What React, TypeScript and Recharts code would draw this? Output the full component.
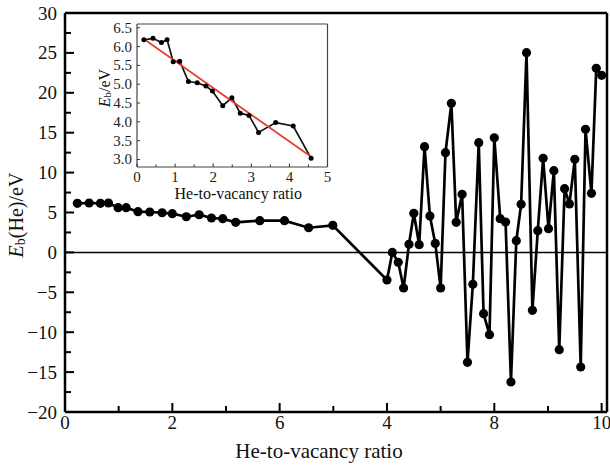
import { Line, LineChart, ReferenceLine, XAxis, YAxis } from "recharts";

// main curve: binding energy vs He-to-vacancy ratio
const mainX = [0.23, 0.45, 0.66, 0.81, 0.99, 1.14, 1.36, 1.58, 1.81, 2.0, 2.26, 2.5, 2.73, 2.94, 3.18, 3.63, 4.09, 4.54, 4.99,
  6.0, 6.1, 6.21, 6.31, 6.41, 6.5, 6.6, 6.7, 6.8, 6.9, 7.0, 7.09, 7.2, 7.29, 7.4, 7.5, 7.6, 7.71, 7.8, 7.91,
  8.0, 8.11, 8.21, 8.31, 8.41, 8.5, 8.6, 8.71, 8.81, 8.91, 9.01, 9.11, 9.21, 9.31, 9.4, 9.5, 9.61, 9.7, 9.81, 9.9, 10.0];
const mainY = [6.15, 6.19, 6.15, 6.19, 5.6, 5.6, 5.1, 5.06, 4.97, 4.85, 4.47, 4.72, 4.31, 4.22, 3.77, 3.97, 3.97, 3.09, 3.39,
  -3.46, 0.0, -1.24, -4.46, 1.01, 4.9, 0.97, 13.25, 4.56, 1.13, -4.46, 12.5, 18.68, 3.77, 7.28, -13.77, -4.0, 13.75, -7.68, -10.31,
  14.37, 4.23, 3.81, -16.24, 1.47, 6.03, 25.03, -7.26, 2.72, 11.79, 2.97, 10.24, -12.19, 7.98, 6.07, 11.67, -14.36, 15.42, 7.4, 23.07, 22.19];

const xTicks = [0, 1, 2, 3, 4, 5, 6, 7, 8, 9, 10];
const xTickLabels = ["0", "2", "6", "4", "8", "10"]; // as printed in the source figure
const yTicks = [-20, -17.5, -15, -12.5, -10, -7.5, -5, -2.5, 0, 2.5, 5, 7.5, 10, 12.5, 15, 17.5, 20, 22.5, 25, 27.5, 30];

// inset: first 18 points + linear fit
const insetX = [0.18, 0.42, 0.64, 0.79, 0.95, 1.12, 1.35, 1.58, 1.81, 1.98, 2.25, 2.49, 2.71, 2.94, 3.19, 3.64, 4.1, 4.57];
const insetY = [6.18, 6.22, 6.11, 6.18, 5.6, 5.61, 5.07, 5.04, 4.95, 4.82, 4.43, 4.64, 4.23, 4.17, 3.72, 3.98, 3.89, 3.03];
const fitX = [0.18, 4.57];
const fitY = [6.2, 3.07];
const insetXTicks = [0, 0.5, 1, 1.5, 2, 2.5, 3, 3.5, 4, 4.5, 5];
const insetYTicks = [3, 3.5, 4, 4.5, 5, 5.5, 6, 6.5];

const mainData = mainX.map((x, i) => ({ x, y: mainY[i] }));
const insetData = insetX.map((x, i) => ({ x, y: insetY[i] }));
const fitData = fitX.map((x, i) => ({ x, y: fitY[i] }));

const SERIF = "Liberation Serif";
const minus = (v: number) => (v < 0 ? "\u2212" + Math.abs(v) : String(v));

const MainYTick = (p: any) => {
  const v = p.payload.value;
  const major = v % 5 === 0;
  return (
    <g>
      <line x1={p.x} x2={p.x + (major ? 9 : 6)} y1={p.y} y2={p.y} stroke="#000" strokeWidth={2} />
      {major && (
        <text x={p.x - 8} y={p.y + 6.5} textAnchor="end" fontSize={19} fontFamily={SERIF} fill="#111">
          {minus(v)}
        </text>
      )}
    </g>
  );
};

const MainXTick = (p: any) => {
  const v = p.payload.value;
  const major = v % 2 === 0;
  return (
    <g>
      <line x1={p.x} x2={p.x} y1={p.y} y2={p.y - (major ? 9 : 6)} stroke="#000" strokeWidth={2} />
      {major && (
        <text x={p.x} y={p.y + 17} textAnchor="middle" fontSize={19} fontFamily={SERIF} fill="#111">
          {xTickLabels[v / 2]}
        </text>
      )}
    </g>
  );
};

const InsetYTick = (p: any) => {
  const v = p.payload.value;
  return (
    <g>
      <line x1={p.x} x2={p.x + 3} y1={p.y} y2={p.y} stroke="#333" strokeWidth={1} />
      <text x={p.x - 5} y={p.y + 5} textAnchor="end" fontSize={15} fontFamily={SERIF} fill="#222">
        {v.toFixed(1)}
      </text>
    </g>
  );
};

const InsetXTick = (p: any) => {
  const v = p.payload.value;
  const major = Number.isInteger(v);
  return (
    <g>
      <line x1={p.x} x2={p.x} y1={p.y} y2={p.y - (major ? 3.5 : 2.5)} stroke="#333" strokeWidth={1} />
      {major && (
        <text x={p.x} y={p.y + 15} textAnchor="middle" fontSize={15} fontFamily={SERIF} fill="#222">
          {v}
        </text>
      )}
    </g>
  );
};

export default function App() {
  return (
    <div style={{ position: "relative", width: 610, height: 465, background: "#fff", fontFamily: SERIF }}>
      <style>{"body{margin:0}"}</style>
      <LineChart width={610} height={465} data={mainData} margin={{ top: 13, right: 3, left: 0, bottom: 0 }}>
        <XAxis
          type="number"
          dataKey="x"
          domain={[0, 10.1]}
          ticks={xTicks}
          interval={0}
          allowDataOverflow
          height={53}
          tickSize={0}
          tickMargin={0}
          tick={MainXTick}
          axisLine={{ stroke: "#000", strokeWidth: 2.5 }}
          label={{
            content: (lp: any) => (
              <text x={lp.viewBox.x + 254} y={lp.viewBox.y + 46} textAnchor="middle" fontSize={21} fontFamily={SERIF} fill="#111">
                He-to-vacancy ratio
              </text>
            ),
          }}
        />
        <YAxis
          type="number"
          domain={[-20, 30]}
          ticks={yTicks}
          interval={0}
          width={65}
          tickSize={0}
          tickMargin={0}
          tick={MainYTick}
          axisLine={{ stroke: "#000", strokeWidth: 2.5 }}
          label={{
            content: (lp: any) => {
              const cx = 16;
              const cy = lp.viewBox.y + 202;
              return (
                <text x={cx} y={cy} transform={`rotate(-90 ${cx} ${cy})`} textAnchor="middle" dominantBaseline="central" fontSize={20} fontFamily={SERIF} fill="#111">
                  <tspan fontStyle="italic">E</tspan>
                  <tspan fontSize={14} dy={4}>b</tspan>
                  <tspan dy={-4}>(He)/eV</tspan>
                </text>
              );
            },
          }}
        />
        <ReferenceLine y={0} stroke="#000" strokeWidth={1.5} />
        <ReferenceLine y={30} stroke="#000" strokeWidth={2.5} />
        <ReferenceLine x={10.1} stroke="#000" strokeWidth={2.5} />
        <Line
          type="linear"
          dataKey="y"
          stroke="#000"
          strokeWidth={2.7}
          dot={{ r: 4.6, fill: "#000", stroke: "#000", strokeWidth: 0 }}
          activeDot={false}
          isAnimationActive={false}
        />
      </LineChart>

      <div style={{ position: "absolute", left: 90, top: 14 }}>
        <LineChart width={245} height={190} margin={{ top: 10, right: 7.5, left: 0, bottom: 0 }}>
          <XAxis
            type="number"
            dataKey="x"
            domain={[0, 5]}
            ticks={insetXTicks}
            interval={0}
            allowDataOverflow
            height={37}
            tickSize={0}
            tickMargin={0}
            tick={InsetXTick}
            axisLine={{ stroke: "#444", strokeWidth: 1.2 }}
            label={{
              content: (lp: any) => (
                <text x={lp.viewBox.x + lp.viewBox.width / 2 + 6} y={lp.viewBox.y + 32} textAnchor="middle" fontSize={16} fontFamily={SERIF} fill="#111">
                  He-to-vacancy ratio
                </text>
              ),
            }}
          />
          <YAxis
            type="number"
            domain={[2.8, 6.6]}
            ticks={insetYTicks}
            interval={0}
            allowDataOverflow
            width={47}
            tickSize={0}
            tickMargin={0}
            tick={InsetYTick}
            axisLine={{ stroke: "#444", strokeWidth: 1.2 }}
            label={{
              content: () => {
                const cx = 14;
                const cy = 74;
                return (
                  <text x={cx} y={cy} transform={`rotate(-90 ${cx} ${cy})`} textAnchor="middle" dominantBaseline="central" fontSize={16} fontFamily={SERIF} fill="#111">
                    <tspan fontStyle="italic">E</tspan>
                    <tspan fontSize={11} dy={3}>b</tspan>
                    <tspan dy={-3}>/eV</tspan>
                  </text>
                );
              },
            }}
          />
          <ReferenceLine y={6.6} stroke="#444" strokeWidth={1.2} />
          <ReferenceLine x={5} stroke="#444" strokeWidth={1.2} />
          <Line
            data={insetData}
            type="linear"
            dataKey="y"
            stroke="#111"
            strokeWidth={1.7}
            dot={{ r: 2.5, fill: "#000", stroke: "#000", strokeWidth: 0 }}
            activeDot={false}
            isAnimationActive={false}
          />
          <Line
            data={fitData}
            type="linear"
            dataKey="y"
            stroke="#e2432f"
            strokeWidth={1.8}
            dot={false}
            activeDot={false}
            isAnimationActive={false}
          />
        </LineChart>
      </div>
    </div>
  );
}
